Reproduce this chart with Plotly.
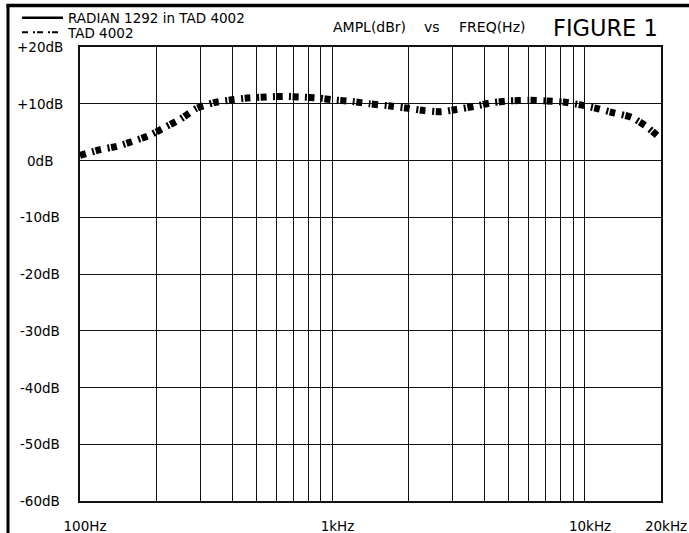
import math
import plotly.graph_objects as go

# ---------------- data ----------------
freq_hz = [100, 120, 140, 160, 190, 220, 250, 290, 340, 400, 460, 550, 640, 740, 880,
           1000, 1200, 1400, 1700, 2000, 2300, 2700, 3100, 3700, 4300, 5000, 6000,
           7000, 8200, 9600, 11300, 13000, 15300, 17500, 20000]
ampl_db = [0.9, 1.9, 2.5, 3.3, 4.5, 6.0, 7.3, 9.2, 10.2, 10.7, 11.0, 11.2, 11.3, 11.2, 11.0,
           10.7, 10.4, 10.0, 9.6, 9.2, 8.8, 8.6, 9.0, 9.6, 10.2, 10.5, 10.6,
           10.5, 10.3, 9.8, 9.1, 8.4, 7.6, 6.0, 3.8]

x_grid = [100, 200, 300, 400, 500, 600, 700, 800, 900,
          1000, 2000, 3000, 4000, 5000, 6000, 7000, 8000, 9000, 10000, 20000]
x_labels = {100: "100Hz", 1000: "1kHz", 10000: "10kHz", 20000: "20kHz"}
y_ticks = [-60, -50, -40, -30, -20, -10, 0, 10, 20]
y_labels = ["-60dB", "-50dB", "-40dB", "-30dB", "-20dB", "-10dB", "0dB", "+10dB", "+20dB"]
legend_names = ["RADIAN 1292 in TAD 4002", "TAD 4002"]

# ---------------- layout helpers (pixel -> paper) ----------------
W, H = 689, 533
ML, MR, MT, MB = 80, 28, 47, 32
PW, PH = W - ML - MR, H - MT - MB


def px_x(px):
    return (px - ML) / PW


def px_y(py):
    return (H - MB - py) / PH


FONT = "DejaVu Sans"

fig = go.Figure()

fig.add_trace(go.Scatter(
    x=freq_hz, y=ampl_db, mode="lines", showlegend=False, name=legend_names[1],
    line=dict(color="black", width=7, dash="6px,6.5px,2px,1.5px", shape="spline", smoothing=0.6),
    hoverinfo="x+y",
))

# legend-only entries
fig.add_trace(go.Scatter(
    x=[None], y=[None], mode="lines", name=legend_names[0], legend="legend",
    line=dict(color="black", width=2.5),
))
fig.add_trace(go.Scatter(
    x=[None], y=[None], mode="lines", name=legend_names[1], legend="legend2",
    line=dict(color="black", width=2, dash="6px,5px,2px,2px"),
))

annotations = []
for v, t in zip(y_ticks, y_labels):
    annotations.append(dict(x=px_x(40), xref="paper", y=v, yref="y", text=t,
                            showarrow=False, xanchor="center", yanchor="middle",
                            font=dict(family=FONT, size=13.5, color="black")))

annotations += [
    dict(x=px_x(331), y=px_y(27), xref="paper", yref="paper", text="AMPL(dBr)",
         showarrow=False, xanchor="left", yanchor="middle",
         font=dict(family=FONT, size=14, color="black")),
    dict(x=px_x(422), y=px_y(27), xref="paper", yref="paper", text="vs",
         showarrow=False, xanchor="left", yanchor="middle",
         font=dict(family=FONT, size=14, color="black")),
    dict(x=px_x(457), y=px_y(27), xref="paper", yref="paper", text="FREQ(Hz)",
         showarrow=False, xanchor="left", yanchor="middle",
         font=dict(family=FONT, size=14, color="black")),
    dict(x=px_x(605), y=px_y(28), xref="paper", yref="paper", text="FIGURE 1",
         showarrow=False, xanchor="center", yanchor="middle",
         font=dict(family=FONT, size=22.5, color="black")),
]

# outer frame of the figure sheet (left and top edges visible)
shapes = [
    dict(type="line", xref="paper", yref="paper", x0=px_x(8), x1=px_x(8),
         y0=px_y(4), y1=px_y(540), line=dict(color="black", width=3), layer="above"),
    dict(type="line", xref="paper", yref="paper", x0=px_x(6.5), x1=px_x(689),
         y0=px_y(5.5), y1=px_y(5.5), line=dict(color="black", width=3.5), layer="above"),
]

legend_common = dict(xanchor="left", yanchor="middle", bgcolor="rgba(0,0,0,0)",
                     borderwidth=0, itemwidth=41, tracegroupgap=0,
                     font=dict(family=FONT, size=13.5, color="black"))

fig.update_layout(
    width=W, height=H, autosize=False,
    margin=dict(l=ML, r=MR, t=MT, b=MB, pad=0, autoexpand=False),
    paper_bgcolor="white", plot_bgcolor="white",
    font=dict(family=FONT, color="black"),
    xaxis=dict(
        type="log", range=[2, math.log10(20000)],
        tickmode="array", tickvals=x_grid,
        ticktext=[x_labels.get(v, "") for v in x_grid],
        ticks="", showgrid=True, gridcolor="#111", gridwidth=1.3,
        showline=True, mirror=True, linecolor="#111", linewidth=1.5,
        zeroline=False, ticklabelshift=5, ticklabelstandoff=12,
        tickfont=dict(family=FONT, size=13.5, color="black"),
        automargin=False,
    ),
    yaxis=dict(
        range=[-60, 20], tickmode="array", tickvals=y_ticks,
        showticklabels=False, ticks="", showgrid=True, gridcolor="#111", gridwidth=1.3,
        showline=True, mirror=True, linecolor="#111", linewidth=1.5, zeroline=False,
        automargin=False,
    ),
    legend=dict(x=px_x(17), y=px_y(18), **legend_common),
    legend2=dict(x=px_x(17), y=px_y(32.5), **legend_common),
    annotations=annotations,
    shapes=shapes,
)

fig.write_html(
    "out.html",
    config={"displayModeBar": False},
    post_script="document.body.style.margin='0';document.body.style.overflow='hidden';",
)
